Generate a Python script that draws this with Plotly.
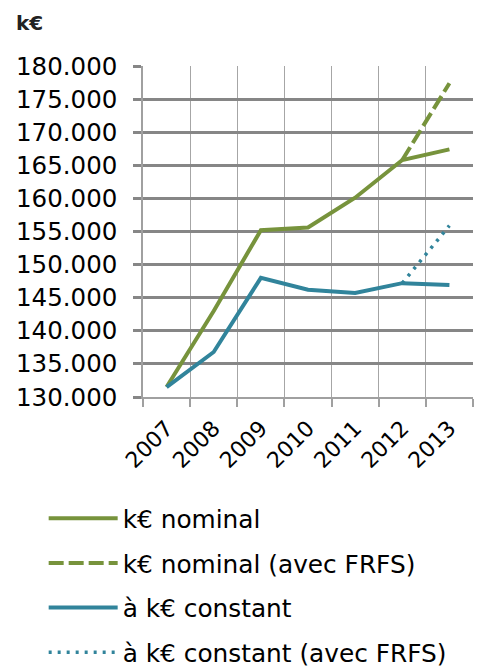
import plotly.graph_objects as go

years = ["2007", "2008", "2009", "2010", "2011", "2012", "2013"]
nominal = [131500, 143000, 155200, 155600, 160100, 165800, 167400]
nominal_frfs = [None, None, None, None, None, 165800, 177400]
constant = [131500, 136800, 148000, 146200, 145700, 147200, 146900]
constant_frfs = [None, None, None, None, None, 147200, 155900]
y_ticks = [130000, 135000, 140000, 145000, 150000, 155000, 160000, 165000, 170000, 175000, 180000]
y_tick_labels = ["130.000", "135.000", "140.000", "145.000", "150.000", "155.000",
                 "160.000", "165.000", "170.000", "175.000", "180.000"]

GREEN = "#77933C"
BLUE = "#31849B"
FONT = "DejaVu Sans"

series = [
    ("k€ nominal", nominal, GREEN, "solid", 4),
    ("k€ nominal (avec FRFS)", nominal_frfs, GREEN, "15px,5px", 4),
    ("à k€ constant", constant, BLUE, "solid", 4),
    ("à k€ constant (avec FRFS)", constant_frfs, BLUE, "3px,6px", 3.5),
]

fig = go.Figure()
# draw FRFS lines beneath main lines
order = [1, 3, 0, 2]
for i in order:
    name, vals, col, dash, w = series[i]
    fig.add_trace(go.Scatter(
        x=years, y=vals, name=name, mode="lines",
        line=dict(color=col, width=w, dash=dash),
        legendgroup=str(i), legendrank=i + 1,
        connectgaps=False,
    ))

fig.update_layout(
    width=481, height=669,
    margin=dict(l=143, r=8, t=66, b=272, autoexpand=False),
    paper_bgcolor="white", plot_bgcolor="white",
    font=dict(family=FONT, color="#000000", size=22),
    showlegend=True,
    legend=dict(
        x=-0.301, xanchor="left", y=-0.298, yanchor="top",
        traceorder="grouped", tracegroupgap=9.4,
        font=dict(size=24.8, family=FONT), itemwidth=69,
        bgcolor="rgba(0,0,0,0)",
    ),
    annotations=[dict(
        text="<b>k€</b>", x=-0.391, xref="paper", y=1.13, yref="paper",
        xanchor="left", yanchor="middle", showarrow=False,
        font=dict(size=20, family=FONT, color="#222222"),
    )],
)

fig.update_xaxes(
    type="category", tickson="boundaries", ticks="outside", ticklen=8,
    tickcolor="#A0A0A0", tickwidth=1.5,
    showgrid=True, gridcolor="#A6A6A6", gridwidth=1.2,
    showline=True, linecolor="#A0A0A0", linewidth=1.5, mirror=False,
    tickangle=-45, tickfont=dict(size=22, family=FONT),
    ticklabelstandoff=8,
    range=[-0.5, 6.5], automargin=False,
)
fig.update_yaxes(
    range=[130000, 180000], tickvals=y_ticks, ticktext=y_tick_labels,
    ticks="outside", ticklen=8, tickcolor="#868686", tickwidth=3,
    showgrid=True, gridcolor="#868686", gridwidth=3,
    showline=True, linecolor="#A0A0A0", linewidth=1.5,
    tickfont=dict(size=24.5, family=FONT), ticklabelstandoff=11,
    zeroline=False, automargin=False,
)

fig.write_html(
    "out.html",
    config={"displayModeBar": False},
    post_script="document.body.style.margin='0';document.body.style.overflow='hidden';",
)
